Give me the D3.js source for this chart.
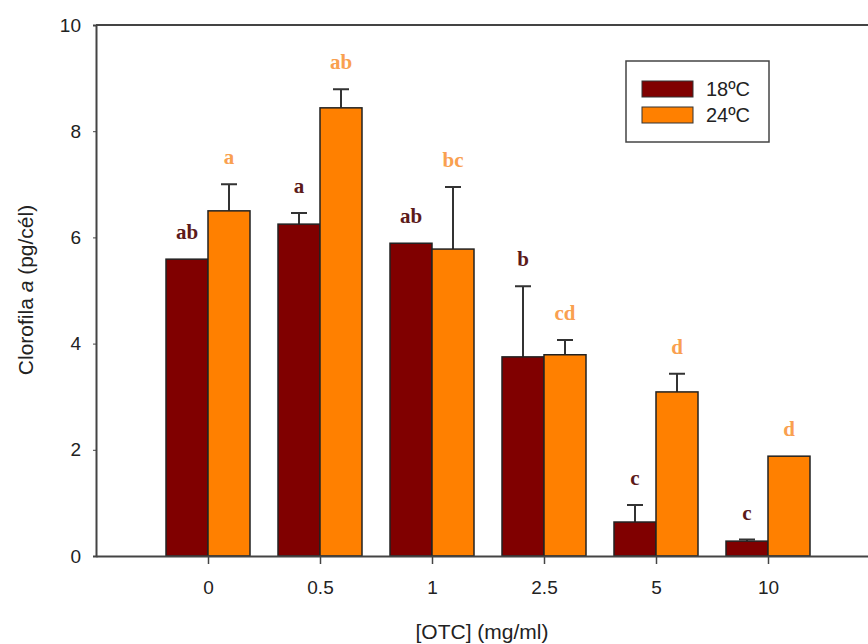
<!DOCTYPE html>
<html>
<head>
<meta charset="utf-8">
<script src="https://cdn.jsdelivr.net/npm/d3@7"></script>
<style>
  body { margin: 0; background: #fff; }
  text { font-family: Arial, "Liberation Sans", sans-serif; }
</style>
</head>
<body>
<div id="chart"></div>
<script>
// data
var categories = ["0", "0.5", "1", "2.5", "5", "10"];
var series = ["18ºC", "24ºC"];
var values18 = [5.59, 6.25, 5.89, 3.75, 0.64, 0.28];
var values24 = [6.50, 8.44, 5.78, 3.79, 3.09, 1.88];
var err18 = [0, 0.21, 0, 1.33, 0.32, 0.03];
var err24 = [0.50, 0.35, 1.17, 0.28, 0.34, 0];
var letters18 = ["ab", "a", "ab", "b", "c", "c"];
var letters24 = ["a", "ab", "bc", "cd", "d", "d"];
var yTicks = [0, 2, 4, 6, 8, 10];

var w = 868, h = 644;
var colors = ["#800000", "#ff8000"];
var letterColors = ["#5c1a1a", "#f9a050"];

var svg = d3.select("#chart").append("svg")
    .attr("width", w)
    .attr("height", h);

// x: one slot per category, plus an empty slot at each side
var x = d3.scaleLinear().domain([-1, 6]).range([96, 880]);
var y = d3.scaleLinear().domain([0, 10]).range([556, 25]);
var barW = 42;

var rows = categories.map(function(c, i) {
  return [
    { s: 0, i: i, v: values18[i], e: err18[i], l: letters18[i] },
    { s: 1, i: i, v: values24[i], e: err24[i], l: letters24[i] }
  ];
});
var bars = [].concat.apply([], rows);

function bx(d) { return d.s == 0 ? x(d.i) - barW : x(d.i); }

// frame line on top
svg.append("line").attr("x1", 96).attr("x2", 880).attr("y1", y(10)).attr("y2", y(10))
    .attr("stroke", "#444").attr("stroke-width", 2);

// error bars (upper only)
svg.selectAll(".err")
    .data(bars.filter(function(d) { return d.e > 0; }))
    .enter().append("path")
    .attr("d", function(d) {
      var cx = bx(d) + barW / 2;
      var yt = y(d.v + d.e);
      return "M" + cx + "," + y(d.v) + "V" + yt + "M" + (cx - 8) + "," + yt + "H" + (cx + 8);
    })
    .attr("stroke", "#333")
    .attr("stroke-width", 2)
    .attr("fill", "none");

// bars
svg.selectAll("rect.bar")
    .data(bars)
    .enter().append("rect")
    .attr("class", "bar")
    .attr("x", bx)
    .attr("y", function(d) { return y(d.v); })
    .attr("width", barW)
    .attr("height", function(d) { return y(0) - y(d.v); })
    .attr("fill", function(d) { return colors[d.s]; })
    .attr("stroke", "#222")
    .attr("stroke-width", 1.5);

// significance letters
svg.selectAll(".letter")
    .data(bars)
    .enter().append("text")
    .attr("x", function(d) { return bx(d) + barW / 2; })
    .attr("y", function(d) { return y(d.v + d.e) - 20; })
    .attr("text-anchor", "middle")
    .style("font-family", "'Liberation Serif', 'DejaVu Serif', serif")
    .style("font-weight", "bold")
    .style("font-size", "21px")
    .attr("fill", function(d) { return letterColors[d.s]; })
    .text(function(d) { return d.l; });

// y axis
var yAxis = svg.append("g")
    .attr("transform", "translate(96,0)")
    .call(d3.axisLeft(y).tickValues(yTicks).tickSize(3).tickPadding(12));
yAxis.select(".domain").attr("stroke", "#444").attr("stroke-width", 2);
yAxis.selectAll(".tick line").attr("stroke", "#444");
yAxis.selectAll("text").style("font-size", "19px").attr("fill", "#222");

// x axis
var xAxis = svg.append("g")
    .attr("transform", "translate(0," + y(0) + ")")
    .call(d3.axisBottom(x).tickValues(d3.range(categories.length))
      .tickFormat(function(i) { return categories[i]; })
      .tickSize(8).tickSizeOuter(0).tickPadding(17));
xAxis.select(".domain").attr("stroke", "#444").attr("stroke-width", 2);
xAxis.selectAll(".tick line").attr("stroke", "#444").attr("stroke-width", 1.5);
xAxis.selectAll("text").style("font-size", "19px").attr("fill", "#222");

// titles
svg.append("text")
    .attr("x", 482).attr("y", 639)
    .attr("text-anchor", "middle")
    .style("font-size", "21px")
    .attr("fill", "#222")
    .text("[OTC] (mg/ml)");

var yt = svg.append("text")
    .attr("transform", "translate(33,290) rotate(-90)")
    .attr("text-anchor", "middle")
    .style("font-size", "21px")
    .attr("fill", "#222");
yt.append("tspan").text("Clorofila ");
yt.append("tspan").style("font-style", "italic").text("a");
yt.append("tspan").text(" (pg/cél)");

// legend
var lg = svg.append("g");
lg.append("rect")
    .attr("x", 626).attr("y", 61).attr("width", 143).attr("height", 81)
    .attr("fill", "#fff").attr("stroke", "#444").attr("stroke-width", 1.5);
series.forEach(function(s, i) {
  lg.append("rect")
      .attr("x", 642).attr("y", 81 + i * 26).attr("width", 51).attr("height", 16)
      .attr("fill", colors[i]).attr("stroke", "#333").attr("stroke-width", 1);
  lg.append("text")
      .attr("x", 706).attr("y", 96 + i * 26)
      .style("font-size", "20px")
      .attr("fill", "#222")
      .text(s);
});
</script>
</body>
</html>
